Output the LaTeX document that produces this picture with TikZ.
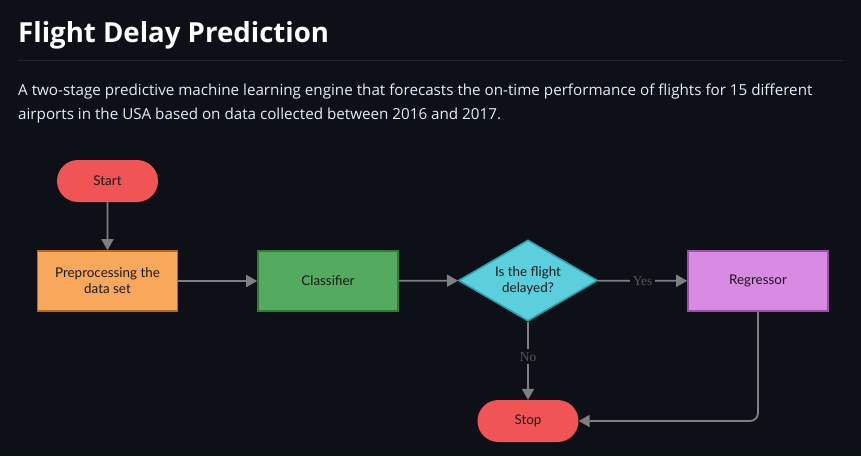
\documentclass[tikz,border=0pt]{standalone}
\usepackage{fontspec}
\setmainfont{Lato}
\newfontfamily\titlefont{Open Sans}
\newfontfamily\labelfont{Liberation Serif}
\usetikzlibrary{arrows.meta,shapes.geometric,shapes.misc}
\definecolor{bg}{HTML}{0D1117}
\definecolor{rulec}{HTML}{21262D}
\definecolor{txt}{HTML}{E6EDF3}
\definecolor{edgec}{HTML}{7F7F7F}
\definecolor{redf}{HTML}{F05454}
\definecolor{orangef}{HTML}{F7A85A}
\definecolor{oranged}{HTML}{B8671E}
\definecolor{greenf}{HTML}{54AB60}
\definecolor{greend}{HTML}{2E7D32}
\definecolor{cyanf}{HTML}{5BCFDC}
\definecolor{cyand}{HTML}{2AA3B0}
\definecolor{pinkf}{HTML}{D98AE3}
\definecolor{pinkd}{HTML}{9C4FA6}
\definecolor{nodetext}{HTML}{1A1A1A}
\definecolor{lblc}{HTML}{555555}
\tikzset{
  base/.style={font=\fontsize{13.4}{16}\selectfont, text=nodetext, align=center, inner sep=0pt},
  pill/.style={base, rounded rectangle, fill=redf, minimum width=101pt, minimum height=42pt},
  procbox/.style={base, draw, line width=1.6pt, minimum width=140pt, minimum height=60pt},
  decision/.style={base, diamond, fill=cyanf, draw=cyand, line width=1.6pt, minimum width=139pt, minimum height=81pt, aspect=1.7},
  conn/.style={draw=edgec, line width=1.8pt, -{Triangle[length=11pt,width=12pt]}},
  edgelabel/.style={font=\labelfont\fontsize{13.5}{15}\selectfont, text=lblc, fill=bg, inner sep=3pt}
}
\begin{document}
\begin{tikzpicture}[x=1pt,y=-1pt]
\fill[bg] (0,0) rectangle (861,456);
\useasboundingbox (0,0) rectangle (861,456);
\node[anchor=base west, inner sep=0pt, text=white, font=\titlefont\bfseries\fontsize{27.6}{32}\selectfont] (title) at (18,42) {Flight Delay Prediction};
\draw[rulec, line width=1pt] (18,60) -- (843,60);
\node[anchor=base west, inner sep=0pt, text=txt, font=\titlefont\fontsize{15.2}{18}\selectfont] (desc1) at (18,95) {A two-stage predictive machine learning engine that forecasts the on-time performance of flights for 15 different};
\node[anchor=base west, inner sep=0pt, text=txt, font=\titlefont\fontsize{15.2}{18}\selectfont] (desc2) at (18,119) {airports in the USA based on data collected between 2016 and 2017.};

\node[pill] (start) at (107.5,181) {Start};
\node[procbox, fill=orangef, draw=oranged] (prep) at (107.5,281) {Preprocessing the\\data set};
\node[procbox, fill=greenf, draw=greend] (clf) at (328,281) {Classifier};
\node[decision] (dec) at (528,280.5) {Is the flight\\delayed?};
\node[procbox, fill=pinkf, draw=pinkd] (reg) at (758,281) {Regressor};
\node[pill] (stop) at (528,421) {Stop};

\draw[conn] (start) -- (prep);
\draw[conn] (prep) -- (clf);
\draw[conn] (clf) -- (dec);
\draw[conn] (dec) -- node[edgelabel] (yes) {Yes} (reg);
\draw[conn] (dec) -- node[edgelabel, pos=0.45] (no) {No} (stop);
\draw[conn, rounded corners=8pt] (reg.south) |- (stop.east);
\end{tikzpicture}
\end{document}
